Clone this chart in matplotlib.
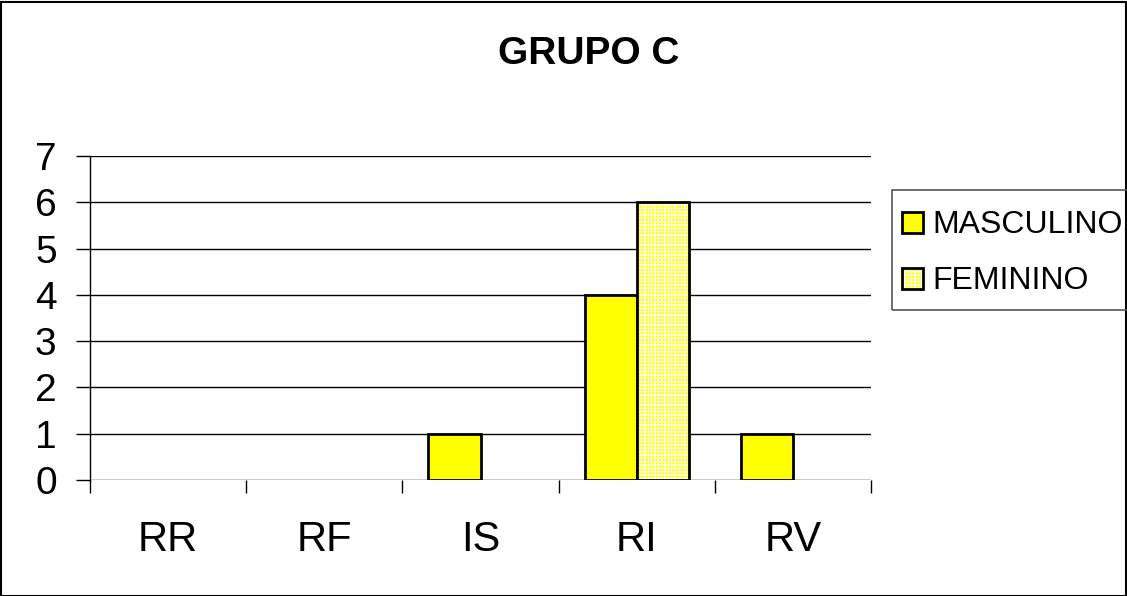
import matplotlib
matplotlib.use("Agg")
import matplotlib.pyplot as plt
import numpy as np
from matplotlib.patches import Rectangle
from matplotlib.legend_handler import HandlerBase

categories = ["RR", "RF", "IS", "RI", "RV"]
masculino = [0, 0, 1, 4, 1]
feminino = [0, 0, 0, 6, 0]
yticks = [0, 1, 2, 3, 4, 5, 6, 7]
title = "GRUPO C"

plt.rcParams['font.family'] = ['Liberation Sans', 'DejaVu Sans']
plt.rcParams['hatch.linewidth'] = 0.8

fig = plt.figure(figsize=(11.27, 5.96), dpi=100)
W, H = 1127, 596
ax = fig.add_axes([90 / W, 1 - 480 / H, (871 - 90) / W, (480 - 156) / H])

x = np.arange(len(categories))
bw = 1 / 3
YEL = "#ffff00"
HATCH = "+++++"

m = np.array(masculino, dtype=float)
f = np.array(feminino, dtype=float)
mi = m > 0
fi = f > 0

ax.bar(x[mi] - bw / 2, m[mi], bw, color=YEL, edgecolor="black", linewidth=2, zorder=3)
ax.bar(x[fi] + bw / 2, f[fi], bw, color=YEL, edgecolor="white", hatch=HATCH, linewidth=0, zorder=3)
ax.bar(x[fi] + bw / 2, f[fi], bw, color="none", edgecolor="black", linewidth=2, zorder=4)

ax.set_xlim(-0.5, len(categories) - 0.5)
ax.set_ylim(0, 7)
ax.set_yticks(yticks)
ax.set_yticklabels([str(v) for v in yticks], fontsize=28)
ax.tick_params(axis="y", length=10, width=1, pad=14)
ax.yaxis.grid(True, color="black", linewidth=1, zorder=0)

ax.set_xticks(np.arange(len(categories) + 1) - 0.5)
ax.set_xticklabels([])
ax.tick_params(axis="x", which="major", length=9, width=1, direction="out")
ax.set_xticks(x, minor=True)
ax.set_xticklabels(categories, minor=True, fontsize=30)
ax.tick_params(axis="x", which="minor", length=0, pad=29)

for s in ["top", "right", "bottom"]:
    ax.spines[s].set_visible(False)
ax.spines["left"].set_linewidth(1)
ax.set_axisbelow(True)

fig.text(589 / W, 1 - 54 / H, title, fontsize=28, fontweight="bold", ha="center", va="center")

# figure border
fig.patches.append(Rectangle((0.5 / W, 0.5 / H), 1 - 2 / W, 1 - 2 / H, transform=fig.transFigure,
                             fill=False, edgecolor="black", linewidth=1.5))

# legend frame
fig.patches.append(Rectangle((892 / W, 1 - 310 / H), (1140 - 892) / W, 120 / H, transform=fig.transFigure,
                             fill=False, edgecolor="#555555", linewidth=1.2, zorder=5))


class Handler(HandlerBase):
    def __init__(self, hatch=None):
        super().__init__()
        self.hatch = hatch

    def create_artists(self, legend, orig_handle, xdescent, ydescent, width, height, fontsize, trans):
        s = height
        x0 = width - s
        y0 = 0
        if self.hatch:
            r1 = Rectangle((x0, y0), s, s, facecolor=YEL, edgecolor="white", hatch=self.hatch, linewidth=0, transform=trans)
            r2 = Rectangle((x0, y0), s, s, facecolor="none", edgecolor="black", linewidth=2, transform=trans)
            return [r1, r2]
        return [Rectangle((x0, y0), s, s, facecolor=YEL, edgecolor="black", linewidth=2, transform=trans)]


h1 = Rectangle((0, 0), 1, 1)
h2 = Rectangle((0, 0), 1, 1)
leg = fig.legend([h1, h2], ["MASCULINO", "FEMININO"],
                 handler_map={h1: Handler(), h2: Handler(HATCH)},
                 loc="upper left", bbox_to_anchor=(903 / W, 1 - 210 / H),
                 fontsize=23, frameon=False,
                 handlelength=0.62, handleheight=0.62, handletextpad=0.3,
                 borderpad=0, labelspacing=0.82, borderaxespad=0)

fig.savefig("out.png", dpi=100)
